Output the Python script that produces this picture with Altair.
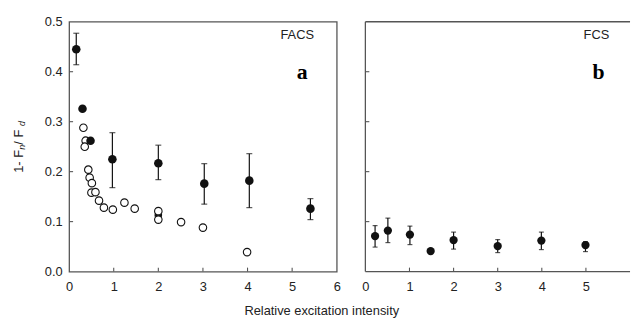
import altair as alt
import pandas as pd

# ---- data ----
facs_fill_x = [0.16, 0.30, 0.48, 0.97, 2.00, 3.03, 4.04, 5.41]
facs_fill_y = [0.445, 0.326, 0.262, 0.225, 0.217, 0.176, 0.182, 0.126]
facs_err_lo = [0.414, None, None, 0.168, 0.184, 0.135, 0.128, 0.104]
facs_err_hi = [0.477, None, None, 0.278, 0.253, 0.216, 0.236, 0.146]

facs_hidden_x = [2.00]
facs_hidden_y = [0.113]

facs_open_x = [0.32, 0.37, 0.35, 0.43, 0.46, 0.51, 0.50, 0.59, 0.67, 0.78,
               0.98, 1.24, 1.47, 2.00, 2.00, 2.51, 3.00, 3.99]
facs_open_y = [0.288, 0.262, 0.250, 0.204, 0.188, 0.177, 0.158, 0.159, 0.142, 0.128,
               0.124, 0.138, 0.126, 0.121, 0.104, 0.099, 0.088, 0.039]

fcs_x = [0.22, 0.51, 1.01, 1.48, 2.00, 3.00, 3.99, 4.99]
fcs_y = [0.071, 0.082, 0.074, 0.041, 0.063, 0.051, 0.062, 0.053]
fcs_lo = [0.049, 0.058, 0.054, None, 0.045, 0.038, 0.044, 0.040]
fcs_hi = [0.092, 0.107, 0.091, None, 0.079, 0.064, 0.079, 0.060]

x_ticks_a = [0, 1, 2, 3, 4, 5, 6]
x_ticks_b = [0, 1, 2, 3, 4, 5]
y_ticks = [0.0, 0.1, 0.2, 0.3, 0.4, 0.5]
inner_x_ticks = [1, 2, 3, 4, 5]
inner_y_ticks = [0.1, 0.2, 0.3, 0.4]

FONT = "Liberation Sans"
SERIF = "Liberation Serif"
INK = "#111111"
FRAME = "#555555"
TXT = "#222222"

W_A, W_B, H = 271, 268, 253

xscale = alt.Scale(domain=[0, 6], nice=False)
yscale = alt.Scale(domain=[0, 0.5], nice=False)


def xaxis(vals):
    return alt.Axis(values=vals, format="d", ticks=False, tickSize=0, domain=False,
                    grid=False, labelPadding=9, labelFontSize=13, labelFont=FONT,
                    labelColor=TXT, title=None, labelFlush=False)


def yaxis(show_labels=True):
    return alt.Axis(values=y_ticks, format=".1f", ticks=False, tickSize=0, domain=False,
                    grid=False, labelPadding=7, labelFontSize=13, labelFont=FONT,
                    labelColor=TXT, title=None, labels=show_labels, labelFlush=False)


def inward_ticks(height):
    xt = alt.Chart(pd.DataFrame({"x": inner_x_ticks})).mark_rule(
        color=FRAME, strokeWidth=1.1).encode(
        x=alt.X("x:Q", scale=xscale), y=alt.value(height), y2=alt.value(height - 4))
    yt = alt.Chart(pd.DataFrame({"y": inner_y_ticks})).mark_rule(
        color=FRAME, strokeWidth=1.1).encode(
        y=alt.Y("y:Q", scale=yscale), x=alt.value(0), x2=alt.value(4))
    return xt + yt


def errorbars(df, cap):
    d = df.dropna(subset=["lo", "hi"])
    rule = alt.Chart(d).mark_rule(color=INK, strokeWidth=1.2).encode(
        x="x:Q", y="lo:Q", y2="hi:Q")
    top = alt.Chart(d).mark_tick(color=INK, orient="horizontal", size=cap,
                                 thickness=1.2).encode(x="x:Q", y="hi:Q")
    bot = alt.Chart(d).mark_tick(color=INK, orient="horizontal", size=cap,
                                 thickness=1.2).encode(x="x:Q", y="lo:Q")
    return rule + top + bot


def open_frame(width, height):
    """Top, left and bottom border lines (right side cut off as in the reference)."""
    dummy = pd.DataFrame({"k": [0]})
    top = alt.Chart(dummy).mark_rule(color=FRAME, strokeWidth=1.3).encode(
        x=alt.value(0), x2=alt.value(width), y=alt.value(0))
    bottom = alt.Chart(dummy).mark_rule(color=FRAME, strokeWidth=1.3).encode(
        x=alt.value(0), x2=alt.value(width), y=alt.value(height))
    left = alt.Chart(dummy).mark_rule(color=FRAME, strokeWidth=1.3).encode(
        x=alt.value(0), y=alt.value(0), y2=alt.value(height))
    return top + bottom + left


# ---- panel a ----
dfa = pd.DataFrame({"x": facs_fill_x, "y": facs_fill_y, "lo": facs_err_lo, "hi": facs_err_hi})
dfo = pd.DataFrame({"x": facs_open_x, "y": facs_open_y})
dfh = pd.DataFrame({"x": facs_hidden_x, "y": facs_hidden_y})

base_a = alt.Chart(dfa).mark_point(opacity=0).encode(
    x=alt.X("x:Q", scale=xscale, axis=xaxis(x_ticks_a)),
    y=alt.Y("y:Q", scale=yscale, axis=yaxis(True)))

hidden_a = alt.Chart(dfh).mark_circle(color=INK, size=60, opacity=1).encode(x="x:Q", y="y:Q")
open_a = alt.Chart(dfo).mark_point(shape="circle", filled=True, fill="white", stroke=INK,
                                    strokeWidth=1.1, size=58, opacity=1).encode(x="x:Q", y="y:Q")
fill_a = alt.Chart(dfa).mark_circle(color=INK, size=75, opacity=1).encode(x="x:Q", y="y:Q")

lbl_a = alt.Chart(pd.DataFrame({"t": ["FACS"]})).mark_text(
    font=FONT, fontSize=13, color=TXT).encode(text="t:N", x=alt.value(231), y=alt.value(13))
let_a = alt.Chart(pd.DataFrame({"t": ["a"]})).mark_text(
    font=SERIF, fontSize=22, fontWeight="bold", color="#000").encode(
    text="t:N", x=alt.value(236), y=alt.value(51))

# y title assembled from parts so that n and d are subscripts
yt_main1 = alt.Chart(pd.DataFrame({"t": ["1- F"]})).mark_text(
    font=FONT, fontSize=13, color=TXT, angle=270, align="left", baseline="middle").encode(
    text="t:N", x=alt.value(-51), y=alt.value(153))
yt_sub1 = alt.Chart(pd.DataFrame({"t": ["n"]})).mark_text(
    font=FONT, fontSize=9, fontStyle="italic", color=TXT, angle=270, align="left",
    baseline="middle").encode(text="t:N", x=alt.value(-47.5), y=alt.value(129.5))
yt_main2 = alt.Chart(pd.DataFrame({"t": [" / F"]})).mark_text(
    font=FONT, fontSize=13, color=TXT, angle=270, align="left", baseline="middle").encode(
    text="t:N", x=alt.value(-51), y=alt.value(124.5))
yt_sub2 = alt.Chart(pd.DataFrame({"t": ["d"]})).mark_text(
    font=FONT, fontSize=9, fontStyle="italic", color=TXT, angle=270, align="left",
    baseline="middle").encode(text="t:N", x=alt.value(-47.5), y=alt.value(105.5))

panel_a = alt.layer(
    base_a, inward_ticks(H), errorbars(dfa, 6), hidden_a, open_a, fill_a,
    lbl_a, let_a, yt_main1, yt_sub1, yt_main2, yt_sub2
).properties(width=W_A, height=H)

# ---- panel b ----
dfb = pd.DataFrame({"x": fcs_x, "y": fcs_y, "lo": fcs_lo, "hi": fcs_hi})
base_b = alt.Chart(dfb).mark_point(opacity=0).encode(
    x=alt.X("x:Q", scale=xscale, axis=xaxis(x_ticks_b)),
    y=alt.Y("y:Q", scale=yscale, axis=yaxis(False)))
fill_b = alt.Chart(dfb).mark_circle(color=INK, size=70, opacity=1).encode(x="x:Q", y="y:Q")
lbl_b = alt.Chart(pd.DataFrame({"t": ["FCS"]})).mark_text(
    font=FONT, fontSize=13, color=TXT).encode(text="t:N", x=alt.value(234), y=alt.value(13))
let_b = alt.Chart(pd.DataFrame({"t": ["b"]})).mark_text(
    font=SERIF, fontSize=22, fontWeight="bold", color="#000").encode(
    text="t:N", x=alt.value(236), y=alt.value(51))

panel_b = alt.layer(
    base_b, open_frame(W_B, H), inward_ticks(H), errorbars(dfb, 5), fill_b, lbl_b, let_b
).properties(width=W_B, height=H, view=alt.ViewBackground(stroke="transparent"))

chart = alt.hconcat(panel_a, panel_b, spacing=19).properties(
    title=alt.TitleParams("Relative excitation intensity", orient="bottom", anchor="middle",
                          fontSize=13, fontWeight="normal", font=FONT, color=TXT, offset=11),
    padding={"left": 12, "top": 13, "right": 0, "bottom": 0},
    background="white",
).configure_view(stroke=FRAME, strokeWidth=1.3, clip=False)

chart.save("out.html", embed_options={"renderer": "svg", "actions": False})
